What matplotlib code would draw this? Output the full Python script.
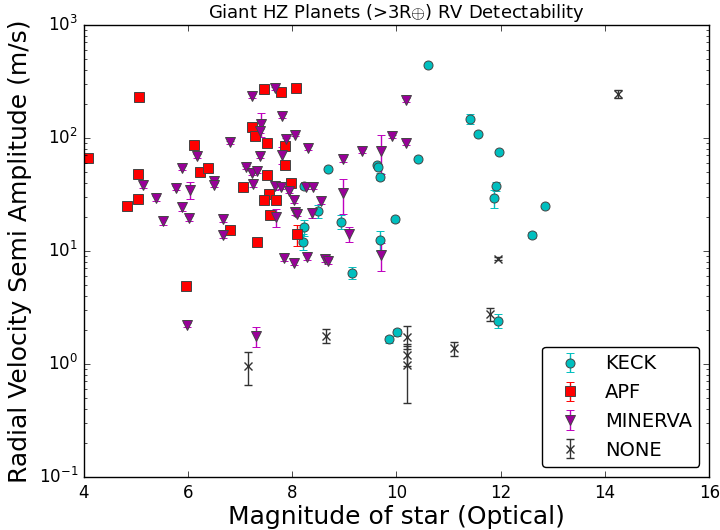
import numpy as np
import matplotlib
matplotlib.use('Agg')
import matplotlib.pyplot as plt

plt.style.use('classic')

# Detectability by survey: magnitude vs RV semi amplitude (m/s)
x_keck = [10.61, 11.42, 11.56, 11.97, 10.41, 11.91, 11.88, 9.63, 9.64, 9.68, 9.98, 9.68,
          10.02, 9.86, 12.86, 12.60, 8.68, 8.22, 8.50, 8.93, 8.23, 8.21, 9.15, 11.94]
y_keck = [440, 148, 109, 75, 65.6, 37.6, 29.4, 57.3, 55, 45.5, 19.1, 12.5,
          1.91, 1.66, 25.0, 13.9, 52.8, 37.6, 22.7, 18.2, 16.2, 12.1, 6.43, 2.42]
e_keck = [5, 15, 3, 3, 2, 3.5, 5.5, 2, 2, 3, 1, 2.5,
          0.15, 0.12, 1, 0.8, 2, 2, 3, 2.5, 2.5, 2, 0.8, 0.35]

x_apf = [4.09, 5.07, 4.83, 5.05, 5.05, 6.11, 6.24, 6.39, 7.06, 6.81, 7.33, 5.96, 7.46, 7.79,
         8.07, 7.24, 7.29, 7.51, 7.87, 7.87, 7.51, 7.97, 7.55, 7.46, 7.69, 7.57, 8.09]
y_apf = [67, 232, 25, 48, 29, 87, 50, 54, 37, 15.4, 12.1, 4.85, 271, 257,
         277, 126, 103, 90, 84, 58, 47, 40, 32, 28, 28, 21, 14.1]
e_apf = [2, 8, 1, 2, 1, 3, 2, 2, 1, 0.5, 0.4, 0.2, 25, 8,
         8, 4, 3, 3, 3, 2, 2, 1.5, 1, 1, 1, 0.8, 3]

x_min = [5.15, 5.39, 5.52, 5.77, 5.89, 6.04, 5.89, 6.02, 6.17, 7.24, 7.68, 7.81, 7.41, 7.39,
         7.88, 8.06, 6.81, 7.39, 7.81, 7.11, 7.24, 7.33, 7.25, 6.51, 6.51, 7.67, 7.78, 7.95,
         8.04, 7.69, 8.06, 8.09, 6.67, 6.67, 8.27, 8.41, 8.55, 8.39, 7.85, 8.03, 8.28, 8.63,
         8.68, 8.31, 8.97, 9.35, 9.70, 9.91, 10.18, 10.18, 8.97, 9.10, 9.70, 5.98, 7.31]
y_min = [38.4, 29.3, 18.4, 36.3, 53.9, 34.7, 24.4, 19.5, 69.7, 235, 275, 157, 133, 115,
         97, 106, 91.6, 69.3, 71, 55, 48.7, 51.4, 38.9, 42, 38.5, 37.8, 36.6, 34.2,
         28.1, 19.9, 22.0, 21.2, 19.1, 13.9, 37.1, 36.6, 27.7, 21.6, 8.6, 7.9, 8.8, 8.45,
         8.1, 81, 64.8, 76.3, 77, 103, 90, 217, 32.4, 14.1, 9.2, 2.21, 1.77]
e_min = [2, 1.5, 1.5, 1.5, 2, 6, 2, 1, 3, 8, 8, 6, 32, 4,
         3, 3, 3, 3, 12, 2, 2, 2, 2, 2, 2, 3, 1.5, 1.5,
         1.5, 3.5, 1, 1, 1, 1, 1.5, 1.5, 1.5, 2, 0.4, 0.4, 0.4, 0.4,
         0.4, 3, 3, 3, 29, 4, 3, 8, 11, 2.2, 2.5, 0.1, 0.37]

x_none = [14.26, 11.95, 11.80, 8.66, 10.20, 10.20, 10.20, 7.16, 11.10]
y_none = [244, 8.55, 2.77, 1.78, 1.75, 1.2, 0.97, 0.96, 1.38]
e_none = [20, 0.3, 0.35, 0.25, 0.4, 0.25, 0.52, 0.31, 0.2]

fig = plt.figure(figsize=(7.2, 5.3), dpi=100)
ax = fig.add_axes([0.116, 0.10, 0.869, 0.853])

ax.errorbar(x_keck, y_keck, yerr=e_keck, fmt='o', color='c', ecolor='c',
            mfc='c', mec='#444444', mew=0.7, ms=6.5, capsize=3, label='KECK')
ax.errorbar(x_apf, y_apf, yerr=e_apf, fmt='s', color='r', ecolor='r',
            mfc='r', mec='#444444', mew=0.7, ms=6.5, capsize=3, label='APF')
ax.errorbar(x_min, y_min, yerr=e_min, fmt='v', color='m', ecolor='m',
            mfc='#990099', mec='#444444', mew=0.7, ms=7, capsize=3, label='MINERVA')
ax.errorbar(x_none, y_none, yerr=e_none, fmt='x', color='#333333', ecolor='#333333',
            mew=1, ms=6, capsize=3, label='NONE')

ax.set_yscale('log')
ax.set_xlim(4, 16)
ax.set_ylim(0.1, 1000)
ax.tick_params(axis='x', pad=5)
ax.set_xlabel('Magnitude of star (Optical)', fontsize=18, labelpad=2)
ax.set_ylabel('Radial Velocity Semi Amplitude (m/s)', fontsize=18)
ax.set_title(r'Giant HZ Planets (>3R$\oplus$) RV Detectability', fontsize=13)
ax.legend(loc='lower right', numpoints=1, fancybox=True, fontsize=14)

fig.savefig('out.png', dpi=100)
